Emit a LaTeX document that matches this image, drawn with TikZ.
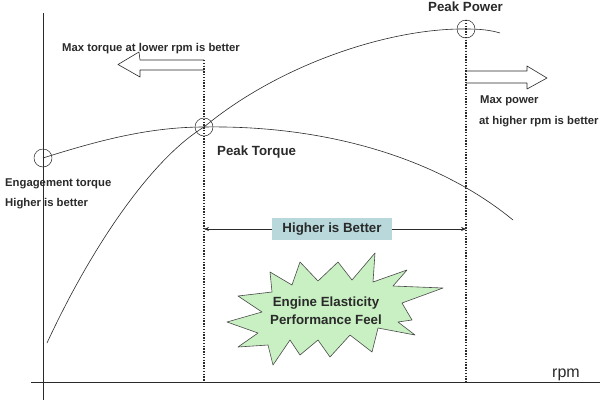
\documentclass[tikz,border=0pt]{standalone}
\usepackage{fontspec}
\setmainfont{Liberation Sans}
\usetikzlibrary{arrows.meta}
\definecolor{boxblue}{HTML}{B8D8DC}
\definecolor{burstgreen}{HTML}{C8F0C2}
\definecolor{ink}{HTML}{2A2A2A}
\begin{document}
\begin{tikzpicture}[x=1pt, y=-1pt, line join=round,
  curve/.style = {draw=ink, line width=0.6pt},
  marker/.style = {circle, draw=ink, line width=0.5pt, minimum size=18pt, inner sep=0pt},
  limit/.style = {draw=ink, line width=1.4pt, dash pattern=on 1.4pt off 1.4pt},
  label/.style = {font=\fontsize{11.3}{13}\selectfont\bfseries, text=ink, inner sep=0pt},
  biglabel/.style = {font=\fontsize{13.3}{18}\selectfont\bfseries, text=ink, inner sep=0pt},
  hollow/.style = {draw=ink, fill=white, line width=0.6pt}]
  \useasboundingbox (0,0) rectangle (600,400);
  \fill[white] (0,0) rectangle (600,400);
  % axes
  \coordinate (ytop) at (43,13);
  \coordinate (ybot) at (43,400);
  \coordinate (xleft) at (31,382);
  \coordinate (xright) at (600,382);
  \draw[ink, line width=0.8pt] (ytop) -- (ybot);
  \draw[ink, line width=0.8pt] (xleft) -- (xright);
  % limits
  \coordinate (tqtop) at (204,60);
  \coordinate (tqbot) at (204,382);
  \coordinate (pwtop) at (466,20);
  \coordinate (pwbot) at (466,382);
  \draw[limit] (tqtop) -- (tqbot);
  \draw[limit] (pwtop) -- (pwbot);
  % curves
  \node[marker] (engage) at (43,158) {};
  \node[marker] (peaktq) at (204,127) {};
  \node[marker] (peakpw) at (466,29) {};
  \draw[curve] (engage.center) .. controls (100,140) and (150,127) .. (peaktq.center)
    .. controls (330,125) and (440,160) .. (513,220);
  \draw[curve] (47,343) .. controls (90,250) and (150,160) .. (peaktq.center)
    .. controls (280,64) and (390,28) .. (peakpw.center)
    .. controls (480,29) and (490,30) .. (500,33);
  % hollow arrows
  \draw[hollow] (tqtop) -- (140,60) -- (139,52) -- (118,64.5) -- (140,77) -- (140,70) -- (204,70);
  \draw[hollow] (466,71) -- (527,71) -- (527,66) -- (547,78) -- (527,89) -- (527,83) -- (466,83);
  \draw[limit] (tqtop) -- (204,72);
  \draw[limit] (466,68) -- (466,86);
  % texts
  \node[label, anchor=base west] (maxtq) at (62,51) {Max torque at lower rpm is better};
  \node[biglabel, anchor=base west] (tqtext) at (217,155) {Peak Torque};
  \node[biglabel, anchor=base west] (pwtext) at (428,11) {Peak Power};
  \node[label, anchor=base west] (engtext) at (5,186) {Engagement torque};
  \node[label, anchor=base west] (engbetter) at (5,206) {Higher is better};
  \node[label, anchor=base west] (maxpw) at (480,103) {Max power};
  \node[label, anchor=base west] (maxpwb) at (479,124) {at higher rpm is better};
  \node[font=\fontsize{16}{18}\selectfont, text=ink, inner sep=0pt, anchor=base west] (rpm) at (552,377) {rpm};
  % higher is better
  \node[biglabel, fill=boxblue, minimum width=120pt, minimum height=22pt] (better) at (332,229) {Higher is Better};
  \draw[ink, line width=0.6pt, -{Stealth[length=5pt, width=4pt]}] (better.west) -- (better.west -| tqbot);
  \draw[ink, line width=0.6pt, -{Stealth[length=5pt, width=4pt]}] (better.east) -- (better.east -| pwbot);
  % starburst
  \filldraw[fill=burstgreen, draw=ink!85, line width=0.6pt]
    (227,322) -- (262,312) -- (238,296) -- (272,292) -- (270,272) -- (292,285)
    -- (300,262) -- (318,281) -- (338,262) -- (352,280) -- (375,253) -- (373,282)
    -- (407,270) -- (393,286) -- (443,288) -- (402,303) -- (412,320) -- (398,322)
    -- (415,335) -- (378,328) -- (372,352) -- (350,335) -- (330,357) -- (318,340)
    -- (300,355) -- (290,340) -- (273,365) -- (268,345) -- (238,347) -- (258,333) -- cycle;
  \node[biglabel, align=center] (elastic) at (326,311) {Engine Elasticity\\Performance Feel};
\end{tikzpicture}
\end{document}
